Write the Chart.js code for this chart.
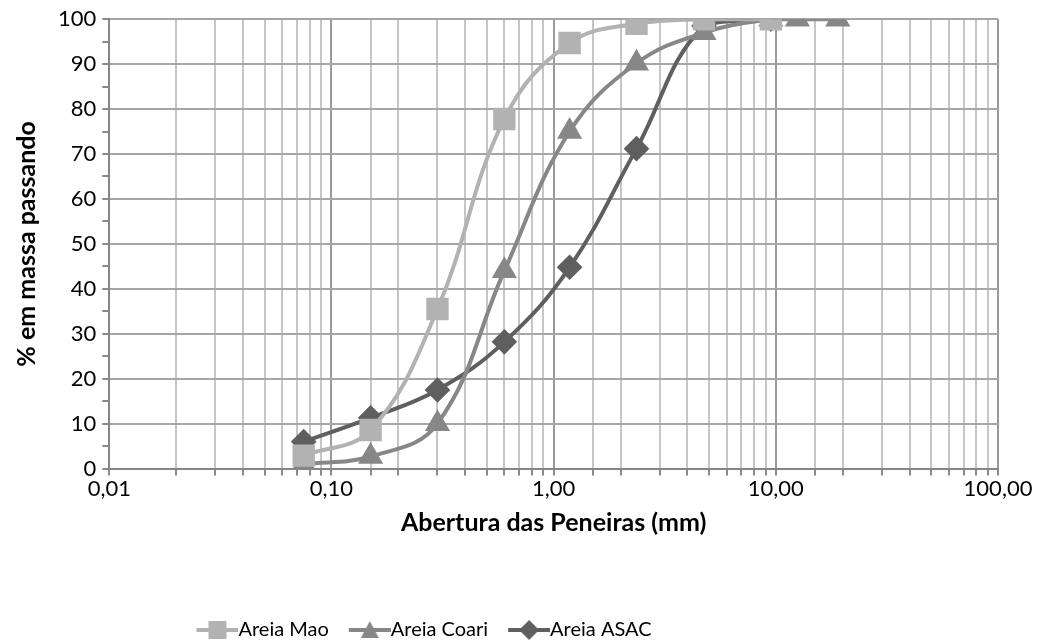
<!DOCTYPE html>
<html>
<head>
<meta charset="utf-8">
<script src="https://cdn.jsdelivr.net/npm/chart.js@4"></script>
<style>
  html, body { margin: 0; padding: 0; background: #fff; }
  #wrap { width: 1039px; height: 642px; }
</style>
</head>
<body>
<div id="wrap"><canvas id="chart" width="1039" height="642"></canvas></div>
<script>
// sieve openings (mm)
const sievesMao = [0.075, 0.15, 0.3, 0.6, 1.18, 2.36, 4.75, 9.5];
const sievesCoari = [0.075, 0.15, 0.3, 0.6, 1.18, 2.36, 4.75, 9.5, 12.5, 19];
const sievesAsac = [0.075, 0.15, 0.3, 0.6, 1.18, 2.36, 4.75, 9.5];

// % passing
const passMao = [2.9, 8.6, 35.5, 77.8, 94.7, 99, 100, 100];
const passCoari = [1, 2.7, 10, 44, 75, 90.2, 97, 100, 100, 100];
const passAsac = [6, 11.3, 17.5, 28.2, 44.8, 71.2, 98.5, 100];

const seriesNames = ["Areia Mao", "Areia Coari", "Areia ASAC"];
const yTicks = [0, 10, 20, 30, 40, 50, 60, 70, 80, 90, 100];

const colMao = "#b2b2b2";
const colCoari = "#878787";
const colAsac = "#5f5f5f";
const fontFam = "Lato, 'Liberation Sans', sans-serif";
const legendSize = 20;

function pts(xs, ys) {
  return xs.map((x, i) => ({ x: x, y: ys[i] }));
}

// legend swatch: line with marker; image is wider than the legend box so the line reaches the text
function swatch(color, style) {
  const c = document.createElement("canvas");
  c.width = 32 + legendSize; c.height = 20;
  const g = c.getContext("2d");
  if (!color) return c;
  const x0 = legendSize / 2, x1 = c.width;
  g.strokeStyle = color;
  g.lineWidth = 4;
  g.beginPath(); g.moveTo(x0, 10); g.lineTo(x1, 10); g.stroke();
  g.fillStyle = color;
  g.beginPath();
  const cx = (x0 + x1) / 2;
  if (style === "rect") {
    g.rect(cx - 9, 1, 18, 18);
  } else if (style === "triangle") {
    g.moveTo(cx, 1); g.lineTo(cx + 9, 18); g.lineTo(cx - 9, 18); g.closePath();
  } else {
    g.moveTo(cx, 0); g.lineTo(cx + 10, 10); g.lineTo(cx, 20); g.lineTo(cx - 10, 10); g.closePath();
  }
  g.fill();
  return c;
}

const swatches = [swatch(colMao, "rect"), swatch(colCoari, "triangle"), swatch(colAsac, "diamond")];
const blank = swatch(null);

function isDecade(v) {
  const l = Math.log10(v);
  return Math.abs(l - Math.round(l)) < 1e-6;
}

new Chart(document.getElementById("chart"), {
  type: "line",
  data: {
    datasets: [
      {
        label: seriesNames[0],
        data: pts(sievesMao, passMao),
        borderColor: colMao,
        backgroundColor: colMao,
        borderWidth: 4,
        pointStyle: "rect",
        pointRadius: 13,
        pointHoverRadius: 13,
        tension: 0.4
      },
      {
        label: seriesNames[1],
        data: pts(sievesCoari, passCoari),
        borderColor: colCoari,
        backgroundColor: colCoari,
        borderWidth: 4,
        pointStyle: "triangle",
        pointRadius: 10.5,
        pointHoverRadius: 10.5,
        tension: 0.4
      },
      {
        label: seriesNames[2],
        data: pts(sievesAsac, passAsac),
        borderColor: colAsac,
        backgroundColor: colAsac,
        borderWidth: 4,
        pointStyle: "rectRot",
        pointRadius: 10,
        pointHoverRadius: 10,
        tension: 0.4
      }
    ]
  },
  options: {
    responsive: false,
    animation: false,
    layout: { padding: { left: 12, right: 41, top: 5, bottom: -8 } },
    plugins: {
      tooltip: { enabled: false },
      legend: {
        position: "bottom",
        labels: {
          usePointStyle: true,
          pointStyleWidth: 32,
          boxHeight: 20,
          padding: 20,
          color: "#000",
          font: { family: fontFam, size: legendSize },
          generateLabels: chart => {
            const items = chart.data.datasets.map((ds, i) => ({
              text: ds.label,
              pointStyle: swatches[i],
              fillStyle: ds.borderColor,
              strokeStyle: ds.borderColor,
              lineWidth: 0,
              datasetIndex: i,
              hidden: false
            }));
            // empty trailing entry: shifts the centred legend to the left like the original
            items.push({ text: "\u2003".repeat(6) + "\u2002", pointStyle: blank, lineWidth: 0, hidden: false });
            return items;
          }
        }
      }
    },
    scales: {
      x: {
        type: "logarithmic",
        min: 0.01,
        max: 100,
        grid: {
          color: ctx => ctx.tick && isDecade(ctx.tick.value) ? "#9a9a9a" : "#c6c6c6",
          lineWidth: 2,
          tickLength: 7,
          tickColor: "#8a8a8a"
        },
        border: { color: "#868686", width: 2 },
        ticks: {
          autoSkip: false,
          maxRotation: 0,
          padding: 0,
          color: "#000",
          font: { family: fontFam, size: 22 },
          callback: v => isDecade(v) ? v.toFixed(2).replace(".", ",") : ""
        },
        title: {
          display: true,
          text: "Abertura das Peneiras (mm)",
          color: "#000",
          font: { family: fontFam, size: 25, weight: "bold" },
          padding: { top: 6, bottom: 62 }
        }
      },
      y: {
        min: 0,
        max: 100,
        grid: {
          color: ctx => ctx.tick && ctx.tick.value % 10 === 0 ? "#a6a6a6" : "rgba(0,0,0,0)",
          lineWidth: 2,
          tickLength: 7,
          tickColor: "#8a8a8a"
        },
        border: { color: "#868686", width: 2 },
        ticks: {
          stepSize: 5,
          autoSkip: false,
          padding: 6,
          color: "#000",
          font: { family: fontFam, size: 22 },
          callback: v => yTicks.includes(v) ? String(v) : ""
        },
        title: {
          display: true,
          text: "% em massa passando",
          color: "#000",
          font: { family: fontFam, size: 25, weight: "bold" },
          padding: { top: 0, bottom: 10 }
        }
      }
    }
  }
});
</script>
</body>
</html>
